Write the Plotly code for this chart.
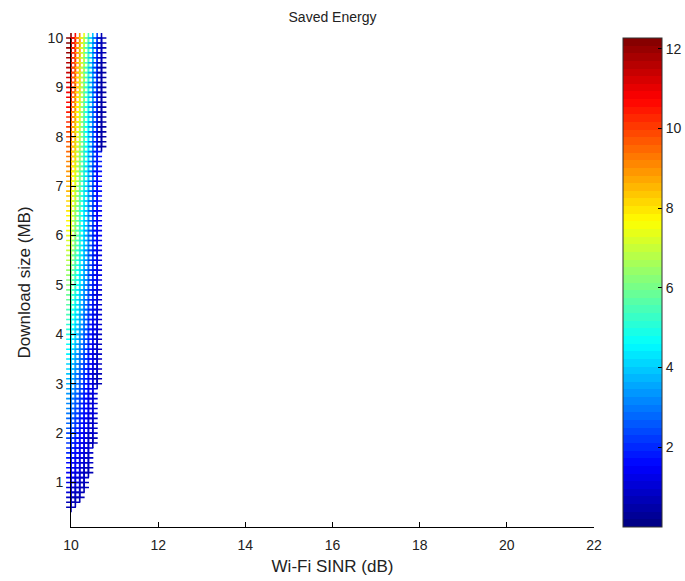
import plotly.graph_objects as go

# Wi-Fi SINR columns (dB)
sinr_db = [10.0, 10.1, 10.2, 10.3, 10.4, 10.5, 10.6, 10.7]

# Download sizes (MB), rows of the grid
download_mb = [0.5, 0.6, 0.7, 0.8, 0.9, 1.0, 1.1, 1.2, 1.3, 1.4, 1.5, 1.6, 1.7, 1.8, 1.9,
               2.0, 2.1, 2.2, 2.3, 2.4, 2.5, 2.6, 2.7, 2.8, 2.9, 3.0, 3.1, 3.2, 3.3, 3.4,
               3.5, 3.6, 3.7, 3.8, 3.9, 4.0, 4.1, 4.2, 4.3, 4.4, 4.5, 4.6, 4.7, 4.8, 4.9,
               5.0, 5.1, 5.2, 5.3, 5.4, 5.5, 5.6, 5.7, 5.8, 5.9, 6.0, 6.1, 6.2, 6.3, 6.4,
               6.5, 6.6, 6.7, 6.8, 6.9, 7.0, 7.1, 7.2, 7.3, 7.4, 7.5, 7.6, 7.7, 7.8, 7.9,
               8.0, 8.1, 8.2, 8.3, 8.4, 8.5, 8.6, 8.7, 8.8, 8.9, 9.0, 9.1, 9.2, 9.3, 9.4,
               9.5, 9.6, 9.7, 9.8, 9.9, 10.0]

# Saved energy per SINR column; each list ends at download size 10.0 MB
energy_sinr_10_0 = [0.61, 0.74, 0.86, 0.98, 1.10, 1.23, 1.35, 1.47, 1.60, 1.72, 1.84, 1.96, 2.09, 2.21, 2.33,
                    2.45, 2.58, 2.70, 2.82, 2.94, 3.07, 3.19, 3.31, 3.44, 3.56, 3.68, 3.80, 3.93, 4.05, 4.17,
                    4.29, 4.42, 4.54, 4.66, 4.79, 4.91, 5.03, 5.15, 5.28, 5.40, 5.52, 5.64, 5.77, 5.89, 6.01,
                    6.14, 6.26, 6.38, 6.50, 6.63, 6.75, 6.87, 6.99, 7.12, 7.24, 7.36, 7.48, 7.61, 7.73, 7.85,
                    7.98, 8.10, 8.22, 8.34, 8.47, 8.59, 8.71, 8.83, 8.96, 9.08, 9.20, 9.33, 9.45, 9.57, 9.69,
                    9.82, 9.94, 10.06, 10.18, 10.31, 10.43, 10.55, 10.67, 10.80, 10.92, 11.04, 11.17, 11.29, 11.41, 11.53,
                    11.66, 11.78, 11.90, 12.02, 12.15, 12.27]
energy_sinr_10_1 = [0.64, 0.74, 0.85, 0.95, 1.06, 1.17, 1.27, 1.38, 1.48, 1.59, 1.70, 1.80, 1.91, 2.01,
                    2.12, 2.23, 2.33, 2.44, 2.54, 2.65, 2.76, 2.86, 2.97, 3.07, 3.18, 3.29, 3.39, 3.50, 3.60,
                    3.71, 3.82, 3.92, 4.03, 4.13, 4.24, 4.35, 4.45, 4.56, 4.66, 4.77, 4.88, 4.98, 5.09, 5.19,
                    5.30, 5.41, 5.51, 5.62, 5.72, 5.83, 5.94, 6.04, 6.15, 6.25, 6.36, 6.47, 6.57, 6.68, 6.78,
                    6.89, 7.00, 7.10, 7.21, 7.31, 7.42, 7.53, 7.63, 7.74, 7.84, 7.95, 8.06, 8.16, 8.27, 8.37,
                    8.48, 8.59, 8.69, 8.80, 8.90, 9.01, 9.12, 9.22, 9.33, 9.43, 9.54, 9.65, 9.75, 9.86, 9.96,
                    10.07, 10.18, 10.28, 10.39, 10.49, 10.60]
energy_sinr_10_2 = [0.63, 0.72, 0.81, 0.90, 0.98, 1.07, 1.16, 1.25, 1.34, 1.43, 1.52, 1.61, 1.70,
                    1.79, 1.88, 1.97, 2.06, 2.15, 2.24, 2.33, 2.42, 2.51, 2.60, 2.69, 2.77, 2.86, 2.95, 3.04,
                    3.13, 3.22, 3.31, 3.40, 3.49, 3.58, 3.67, 3.76, 3.85, 3.94, 4.03, 4.12, 4.21, 4.30, 4.39,
                    4.48, 4.56, 4.65, 4.74, 4.83, 4.92, 5.01, 5.10, 5.19, 5.28, 5.37, 5.46, 5.55, 5.64, 5.73,
                    5.82, 5.91, 6.00, 6.09, 6.18, 6.27, 6.35, 6.44, 6.53, 6.62, 6.71, 6.80, 6.89, 6.98, 7.07,
                    7.16, 7.25, 7.34, 7.43, 7.52, 7.61, 7.70, 7.79, 7.88, 7.97, 8.06, 8.14, 8.23, 8.32, 8.41,
                    8.50, 8.59, 8.68, 8.77, 8.86, 8.95]
energy_sinr_10_3 = [0.66, 0.73, 0.80, 0.88, 0.95, 1.02, 1.10, 1.17, 1.24, 1.31, 1.39,
                    1.46, 1.53, 1.61, 1.68, 1.75, 1.83, 1.90, 1.97, 2.04, 2.12, 2.19, 2.26, 2.34, 2.41, 2.48,
                    2.56, 2.63, 2.70, 2.77, 2.85, 2.92, 2.99, 3.07, 3.14, 3.21, 3.29, 3.36, 3.43, 3.50, 3.58,
                    3.65, 3.72, 3.80, 3.87, 3.94, 4.02, 4.09, 4.16, 4.23, 4.31, 4.38, 4.45, 4.53, 4.60, 4.67,
                    4.75, 4.82, 4.89, 4.96, 5.04, 5.11, 5.18, 5.26, 5.33, 5.40, 5.48, 5.55, 5.62, 5.69, 5.77,
                    5.84, 5.91, 5.99, 6.06, 6.13, 6.21, 6.28, 6.35, 6.42, 6.50, 6.57, 6.64, 6.72, 6.79, 6.86,
                    6.94, 7.01, 7.08, 7.15, 7.23, 7.30]
energy_sinr_10_4 = [0.68, 0.73, 0.79, 0.85, 0.90, 0.96, 1.02, 1.07,
                    1.13, 1.19, 1.24, 1.30, 1.36, 1.41, 1.47, 1.53, 1.58, 1.64, 1.70, 1.75, 1.81, 1.86, 1.92,
                    1.98, 2.03, 2.09, 2.15, 2.20, 2.26, 2.32, 2.37, 2.43, 2.49, 2.54, 2.60, 2.66, 2.71, 2.77,
                    2.83, 2.88, 2.94, 2.99, 3.05, 3.11, 3.16, 3.22, 3.28, 3.33, 3.39, 3.45, 3.50, 3.56, 3.62,
                    3.67, 3.73, 3.79, 3.84, 3.90, 3.96, 4.01, 4.07, 4.12, 4.18, 4.24, 4.29, 4.35, 4.41, 4.46,
                    4.52, 4.58, 4.63, 4.69, 4.75, 4.80, 4.86, 4.92, 4.97, 5.03, 5.09, 5.14, 5.20, 5.25, 5.31,
                    5.37, 5.42, 5.48, 5.54, 5.59, 5.65]
energy_sinr_10_5 = [0.72, 0.76,
                    0.80, 0.84, 0.88, 0.92, 0.96, 1.00, 1.04, 1.08, 1.12, 1.16, 1.20, 1.24, 1.28, 1.32, 1.36,
                    1.40, 1.44, 1.48, 1.52, 1.56, 1.60, 1.64, 1.68, 1.72, 1.76, 1.80, 1.84, 1.88, 1.92, 1.96,
                    2.00, 2.04, 2.08, 2.12, 2.16, 2.20, 2.24, 2.28, 2.32, 2.36, 2.40, 2.44, 2.48, 2.52, 2.56,
                    2.60, 2.64, 2.68, 2.72, 2.76, 2.80, 2.84, 2.88, 2.92, 2.96, 3.00, 3.04, 3.08, 3.12, 3.16,
                    3.20, 3.24, 3.28, 3.32, 3.36, 3.40, 3.44, 3.48, 3.52, 3.56, 3.60, 3.64, 3.68, 3.72, 3.76,
                    3.80, 3.84, 3.88, 3.92, 3.96, 4.00]
energy_sinr_10_6 = [0.71, 0.73, 0.75, 0.78, 0.80,
                    0.82, 0.85, 0.87, 0.89, 0.92, 0.94, 0.96, 0.99, 1.01, 1.03, 1.06, 1.08, 1.10, 1.13, 1.15,
                    1.18, 1.20, 1.22, 1.25, 1.27, 1.29, 1.32, 1.34, 1.36, 1.39, 1.41, 1.43, 1.46, 1.48, 1.50,
                    1.53, 1.55, 1.57, 1.60, 1.62, 1.65, 1.67, 1.69, 1.72, 1.74, 1.76, 1.79, 1.81, 1.83, 1.86,
                    1.88, 1.90, 1.93, 1.95, 1.97, 2.00, 2.02, 2.04, 2.07, 2.09, 2.12, 2.14, 2.16, 2.19, 2.21,
                    2.23, 2.26, 2.28, 2.30, 2.33, 2.35]
energy_sinr_10_7 = [0.47, 0.47,
                    0.48, 0.49, 0.49, 0.50, 0.50, 0.51, 0.52, 0.52, 0.53, 0.53, 0.54, 0.55, 0.55,
                    0.56, 0.56, 0.57, 0.58, 0.58, 0.59, 0.59, 0.60]

energy_columns = [energy_sinr_10_0, energy_sinr_10_1, energy_sinr_10_2, energy_sinr_10_3,
                  energy_sinr_10_4, energy_sinr_10_5, energy_sinr_10_6, energy_sinr_10_7]

x_ticks = [10, 12, 14, 16, 18, 20, 22]
y_ticks = [1, 2, 3, 4, 5, 6, 7, 8, 9, 10]
cbar_ticks = [2, 4, 6, 8, 10, 12]
cbar_floor = 0  # colour bar starts at zero in the reference

# assemble scatter points
xs, ys, cs = [], [], []
for sx, col in zip(sinr_db, energy_columns):
    sizes = download_mb[len(download_mb) - len(col):]
    for sy, e in zip(sizes, col):
        xs.append(sx)
        ys.append(sy)
        cs.append(e)
cmin, cmax = cbar_floor, max(cs)


# MATLAB "jet" colormap with 64 discrete levels (style only)
def jet_rgb(t):
    def clamp(v):
        return max(0.0, min(1.0, v))
    r = clamp(1.5 - abs(4 * t - 3))
    g = clamp(1.5 - abs(4 * t - 2))
    b = clamp(1.5 - abs(4 * t - 1))
    return "rgb(%d,%d,%d)" % (round(r * 255), round(g * 255), round(b * 255))


N = 64
jet = []
for i in range(N):
    c = jet_rgb((i + 0.5) / N)
    jet.append([i / N, c])
    jet.append([(i + 1) / N, c])

font = "Liberation Sans, Arial, Helvetica, sans-serif"
L, R, T, B = 71, 91, 38, 54
W, H = 685, 581

fig = go.Figure()
fig.add_trace(go.Scatter(
    x=xs, y=ys, mode="markers", cliponaxis=False,
    marker=dict(
        symbol="cross-thin",
        size=7,
        color=cs, cmin=cmin, cmax=cmax,
        colorscale=jet,
        showscale=True,
        line=dict(width=1.6, color=cs, colorscale=jet, cmin=cmin, cmax=cmax,
                  autocolorscale=False),
        colorbar=dict(
            x=(623 - L) / (W - L - R), xanchor="left", xpad=0,
            y=0.5, yanchor="middle", ypad=0,
            len=1.0, lenmode="fraction",
            thickness=39, thicknessmode="pixels",
            outlinewidth=1, outlinecolor="#333333",
            tickvals=cbar_ticks, ticks="inside", ticklen=4,
            tickcolor="#000000",
            tickfont=dict(family=font, size=14, color="#222222"),
        ),
    ),
    showlegend=False,
    hoverinfo="x+y",
))

fig.update_layout(
    width=W, height=H,
    margin=dict(l=L, r=R, t=T, b=B, autoexpand=False),
    paper_bgcolor="white", plot_bgcolor="white",
    title=dict(text="Saved Energy", x=(L + (W - R)) / 2 / W, xanchor="center",
               y=1 - 17 / H, yanchor="middle",
               font=dict(family=font, size=14, color="#222222")),
    font=dict(family=font, size=14, color="#222222"),
)
fig.update_xaxes(
    range=[10, 22], tickvals=x_ticks, showgrid=False, zeroline=False,
    showline=True, linecolor="#000000", linewidth=1, mirror=False,
    ticks="inside", ticklen=5, tickcolor="#000000", ticklabelstandoff=5,
    title=dict(text="Wi-Fi SINR (dB)", standoff=8, font=dict(family=font, size=17)),
    tickfont=dict(family=font, size=14),
)
fig.update_yaxes(
    range=[0.1, 10], tickvals=y_ticks, showgrid=False, zeroline=False,
    showline=True, linecolor="#000000", linewidth=1, mirror=False,
    ticks="inside", ticklen=5, tickcolor="#000000", ticklabelstandoff=4,
    title=dict(text="Download size (MB)", standoff=12, font=dict(family=font, size=17)),
    tickfont=dict(family=font, size=14),
)

fig.write_html("out.html", config={"displayModeBar": False},
               post_script="document.body.style.margin='0';")
